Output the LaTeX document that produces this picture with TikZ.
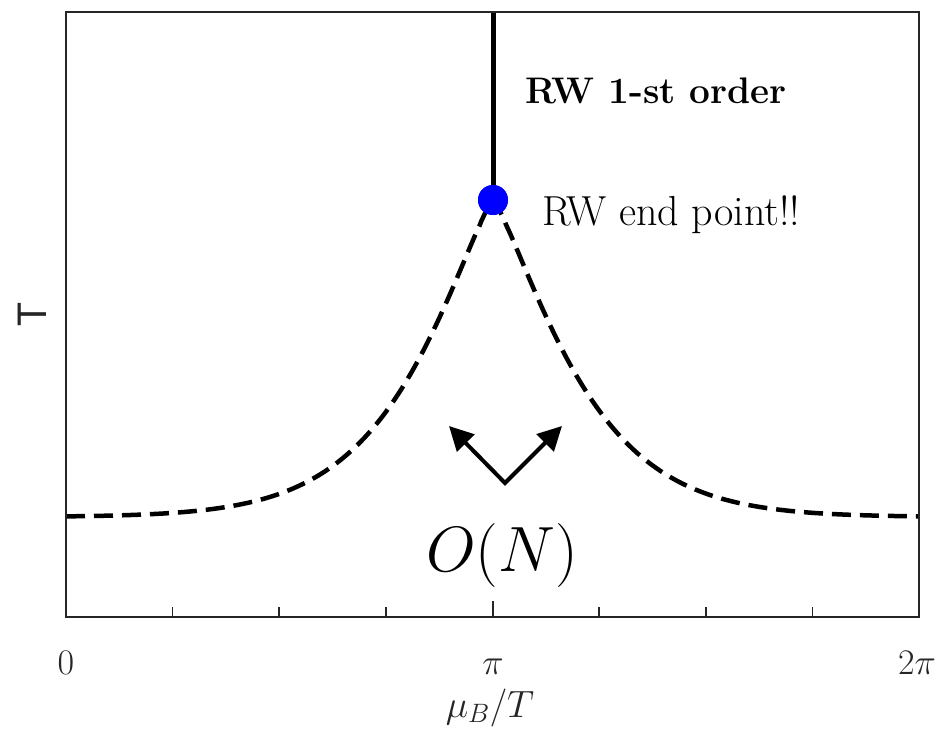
\RequirePackage{fix-cm}
\documentclass[tikz,border=0pt]{standalone}
\usepackage{fontspec}
\newfontfamily\helv{TeX Gyre Heros}
\usetikzlibrary{arrows.meta}
\definecolor{axisgray}{RGB}{38,38,38}
\begin{document}
\begin{tikzpicture}[x=1pt,y=-1pt,
  frame/.style={line width=2.7pt, draw=axisgray},
  tickmark/.style={line width=1.6pt, draw=axisgray},
  ticklabel/.style={anchor=base, inner sep=0pt, text=axisgray, font=\fontsize{36}{40}\selectfont},
  curve/.style={line width=4.5pt, dash pattern=on 19pt off 9pt},
  firstorder/.style={line width=5pt},
  endpt/.style={circle, fill=blue, minimum size=30pt, inner sep=0pt},
  vecarrow/.style={line width=4pt, line join=miter,
     {Triangle[length=24pt,width=24pt]}-{Triangle[length=24pt,width=24pt]}},
  lbl/.style={anchor=base west, inner sep=0pt}
]
\useasboundingbox (0,0) rectangle (943,737);
\coordinate (TL) at (66,12);
\coordinate (BR) at (919,617);
% curve
\draw[curve] plot[domain=66:919, samples=854]
  (\x, {517-317*exp(-((abs(\x-493)+0.001)/99)^1.25)});
% end point and first-order line
\node[endpt] (ep) at (493,200) {};
\draw[firstorder] (ep.center) -- (ep.center |- TL);
\node[endpt] at (ep.center) {};
% frame and ticks
\draw[frame] (TL) rectangle (BR);
\foreach \i in {1,2,3,5,6,7}
  \draw[tickmark] ({66+\i*106.625},617) -- ++(0,-10);
\draw[tickmark] (493,617) -- ++(0,-16);
% labels
\node[lbl, font=\fontsize{37}{40}\selectfont\bfseries] (rw1) at (525,103) {RW 1-st order};
\node[lbl, font=\fontsize{42}{46}\selectfont] (rwe) at (542,225) {RW end point!!};
\node[anchor=base, inner sep=0pt, font=\fontsize{64}{70}\selectfont] (on) at (502,571) {$O(N)$};
% arrows
\coordinate (v) at (505,483);
\coordinate (al) at (449,426);
\coordinate (ar) at (562,426);
\draw[vecarrow] (al) -- (v) -- (ar);
% tick labels and axis labels
\node[ticklabel] (t0) at (66,674) {$0$};
\node[ticklabel] (tpi) at (493,674) {$\pi$};
\node[ticklabel] (t2pi) at (917,674) {$2\pi$};
\node[anchor=base, inner sep=0pt, text=axisgray, font=\fontsize{38}{42}\selectfont] (xlab) at (490,717) {$\mu_B/T$};
\node[rotate=90, inner sep=0pt, text=axisgray, font=\helv\fontsize{39}{42}\selectfont] (ylab) at (32,315) {T};
\end{tikzpicture}
\end{document}
